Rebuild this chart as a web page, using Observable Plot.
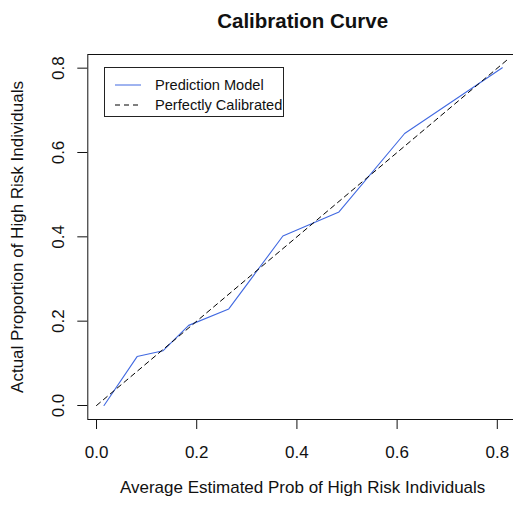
<!DOCTYPE html>
<html>
<head>
<meta charset="utf-8">
<script src="https://cdn.jsdelivr.net/npm/d3@7"></script>
<script src="https://cdn.jsdelivr.net/npm/@observablehq/plot@0.6"></script>
<style>
  html, body { margin: 0; padding: 0; background: white; overflow: hidden; }
  #wrap { position: relative; width: 513px; height: 508px; font-family: "Liberation Sans", Arial, sans-serif; }
  #legend { position: absolute; left: 104px; top: 67px; width: 180px; height: 50px; border: 1px solid #222; box-sizing: border-box; background: white; }
  .row { position: absolute; left: 0; height: 18px; display: flex; align-items: center; font-size: 14.6px; color: #111; white-space: nowrap; }
  .row svg { margin-left: 10px; margin-right: 14px; }
</style>
</head>
<body>
<div id="wrap"></div>
<script>
// ---- data ----
const titleText = "Calibration Curve";
const xLabel = "Average Estimated Prob of High Risk Individuals";
const yLabel = "Actual Proportion of High Risk Individuals";
const xTicks = [0, 0.2, 0.4, 0.6, 0.8];
const yTicks = [0, 0.2, 0.4, 0.6, 0.8];
const meanPredicted = [0.015, 0.081, 0.133, 0.184, 0.264, 0.372, 0.484, 0.615, 0.810];
const observedProp  = [0.000, 0.116, 0.130, 0.190, 0.229, 0.402, 0.459, 0.645, 0.801];
const perfectLine = [0, 0.82];
const seriesNames = ["Prediction Model", "Perfectly Calibrated"];
const seriesColors = ["#4169e1", "#000000"];

// ---- scale settings ----
const xDomain = [-0.0174, 0.8409];
const yDomain = [-0.0332, 0.8324];

const model = meanPredicted.map((x, i) => ({x, y: observedProp[i]}));
const ref = perfectLine.map(v => ({x: v, y: v}));
const fmt = d3.format(".1f");

const chart = Plot.plot({
  width: 513,
  height: 508,
  marginLeft: 87.3,
  marginRight: 0,
  marginTop: 54,
  marginBottom: 89,
  style: {fontFamily: "'Liberation Sans', Arial, sans-serif", background: "white", color: "#111", overflow: "hidden"},
  x: {domain: xDomain, range: [87.3, 517.3]},
  y: {domain: yDomain},
  marks: [
    Plot.frame({stroke: "#111", strokeWidth: 1, insetRight: -6}),
    Plot.axisX(xTicks, {tickSize: 10, tickPadding: 16, tickFormat: fmt, fontSize: 17, label: null, stroke: "#111"}),
    Plot.axisY(yTicks, {tickSize: 10, tickFormat: () => "", label: null, stroke: "#111"}),
    Plot.text(yTicks, {y: d => d, text: d => fmt(d), frameAnchor: "left", rotate: -90, textAnchor: "middle", dx: -29.6, fontSize: 17, fill: "#111"}),
    Plot.line(model, {x: "x", y: "y", stroke: seriesColors[0], strokeWidth: 1.1}),
    Plot.line(ref, {x: "x", y: "y", stroke: seriesColors[1], strokeWidth: 1, strokeDasharray: "5,4"}),
    Plot.text([titleText], {frameAnchor: "top", dx: 2, dy: -40.6, fontSize: 20.5, fontWeight: "bold", fill: "#111"}),
    Plot.text([xLabel], {frameAnchor: "bottom", dx: 2, dy: 73.6, fontSize: 17, fill: "#111"}),
    Plot.text([yLabel], {frameAnchor: "left", rotate: -90, textAnchor: "middle", dx: -69.8, fontSize: 17, fill: "#111"})
  ]
});

const wrap = document.getElementById("wrap");
wrap.appendChild(chart);

// legend
const legend = document.createElement("div");
legend.id = "legend";
seriesNames.forEach((name, i) => {
  const row = document.createElement("div");
  row.className = "row";
  row.style.top = (8 + i * 19.5) + "px";
  const dash = i === 1 ? 'stroke-dasharray="5,4"' : "";
  row.innerHTML = `<svg width="26" height="4"><line x1="0" x2="26" y1="2" y2="2" stroke="${seriesColors[i]}" stroke-width="1" ${dash}/></svg><span>${name}</span>`;
  legend.appendChild(row);
});
wrap.appendChild(legend);
</script>
</body>
</html>
